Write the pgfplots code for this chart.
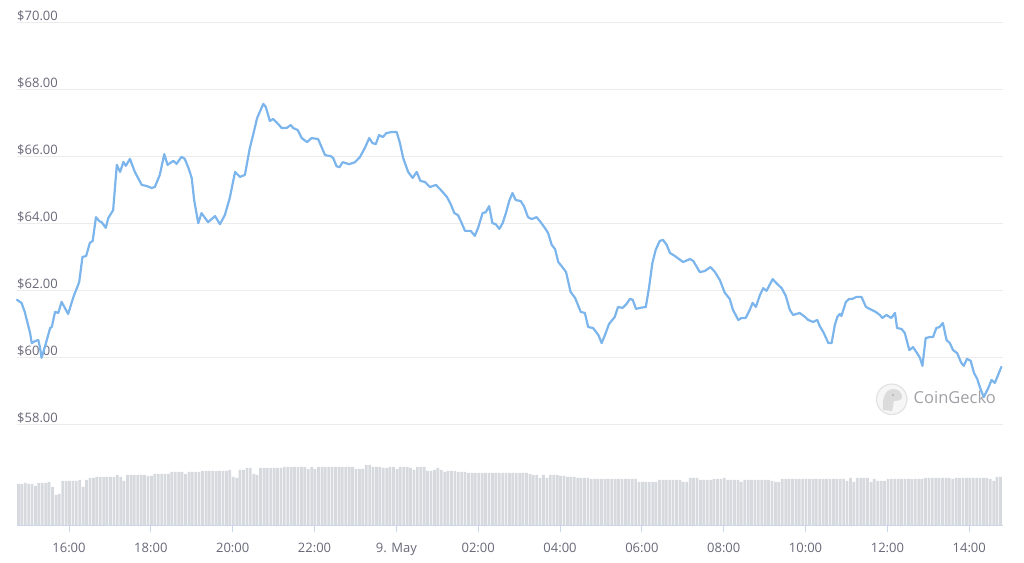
\documentclass[border=0pt]{standalone}
\usepackage{pgfplots}
\usepackage{pgfplotstable}
\pgfplotsset{compat=1.18}
\usepackage{fontspec}
\setmainfont{Open Sans}
\definecolor{linec}{HTML}{7CB5EC}
\definecolor{gridc}{RGB}{236,236,236}
\definecolor{labelc}{RGB}{104,104,120}
\definecolor{axisc}{HTML}{CCD6EB}
\definecolor{barc}{RGB}{214,217,222}
\definecolor{wmc}{RGB}{160,160,166}

\pgfplotstableread[row sep=\\]{
h p\\
14.73 61.72\\14.84 61.63\\14.92 61.36\\15.05 60.73\\15.09 60.43\\15.17 60.49\\15.25 60.52\\15.29 60.31\\15.33 59.99\\15.41 60.31\\
15.54 60.88\\15.58 60.91\\15.66 61.36\\15.74 61.33\\15.82 61.66\\15.90 61.48\\15.98 61.30\\16.11 61.81\\16.25 62.25\\16.33 63.00\\
16.42 63.03\\16.51 63.42\\16.58 63.48\\16.66 64.19\\16.74 64.07\\16.80 64.04\\16.90 63.87\\16.96 64.16\\17.08 64.40\\17.17 65.75\\
17.25 65.54\\17.33 65.84\\17.39 65.72\\17.49 65.93\\17.61 65.54\\17.78 65.15\\17.90 65.12\\18.02 65.06\\18.10 65.09\\18.22 65.45\\
18.33 66.07\\18.41 65.75\\18.55 65.87\\18.63 65.78\\18.75 65.99\\18.83 65.93\\18.92 65.66\\19.00 65.36\\19.06 64.70\\19.16 64.01\\
19.24 64.31\\19.40 64.04\\19.57 64.22\\19.69 63.98\\19.81 64.25\\19.93 64.76\\20.06 65.54\\20.18 65.39\\20.30 65.45\\20.42 66.25\\
20.50 66.64\\20.60 67.15\\20.75 67.57\\20.81 67.48\\20.91 67.06\\20.99 67.12\\21.09 67.00\\21.20 66.85\\21.32 66.85\\21.42 66.94\\
21.48 66.85\\21.59 66.79\\21.69 66.55\\21.82 66.43\\21.93 66.55\\22.09 66.52\\22.26 66.04\\22.40 66.01\\22.46 65.95\\22.54 65.71\\
22.61 65.68\\22.69 65.83\\22.77 65.80\\22.85 65.77\\22.99 65.83\\23.11 65.98\\23.23 66.25\\23.34 66.55\\23.42 66.40\\23.50 66.37\\
23.58 66.64\\23.67 66.58\\23.76 66.70\\23.89 66.73\\24.01 66.73\\24.09 66.40\\24.17 65.95\\24.29 65.54\\24.40 65.36\\24.50 65.54\\
24.59 65.27\\24.70 65.24\\24.82 65.09\\24.97 65.15\\25.09 65.00\\25.24 64.79\\25.33 64.58\\25.42 64.31\\25.51 64.25\\25.60 64.01\\
25.68 63.78\\25.82 63.78\\25.92 63.63\\26.00 63.87\\26.11 64.31\\26.19 64.34\\26.27 64.52\\26.35 64.01\\26.43 63.98\\26.52 63.84\\
26.60 64.01\\26.68 64.31\\26.76 64.67\\26.84 64.91\\26.92 64.70\\27.04 64.67\\27.12 64.52\\27.22 64.19\\27.31 64.13\\27.43 64.19\\
27.53 64.04\\27.63 63.87\\27.71 63.72\\27.80 63.36\\27.88 63.24\\27.96 62.85\\28.04 62.73\\28.15 62.55\\28.26 61.96\\28.37 61.78\\
28.51 61.36\\28.61 61.33\\28.69 60.91\\28.81 60.88\\28.94 60.67\\29.02 60.43\\29.10 60.67\\29.20 61.00\\29.34 61.21\\29.42 61.51\\
29.53 61.48\\29.63 61.60\\29.71 61.75\\29.78 61.72\\29.86 61.45\\29.95 61.48\\30.10 61.51\\30.18 62.10\\30.26 62.82\\30.34 63.21\\
30.44 63.48\\30.52 63.51\\30.61 63.36\\30.69 63.12\\30.81 63.03\\31.01 62.85\\31.18 62.94\\31.26 62.88\\31.42 62.55\\31.54 62.58\\
31.68 62.70\\31.79 62.55\\31.91 62.31\\32.03 61.93\\32.15 61.75\\32.23 61.42\\32.36 61.12\\32.44 61.18\\32.54 61.18\\32.64 61.42\\
32.71 61.63\\32.79 61.51\\32.89 61.87\\32.97 62.07\\33.05 61.99\\33.20 62.34\\33.29 62.22\\33.42 62.07\\33.52 61.84\\33.62 61.42\\
33.70 61.27\\33.86 61.33\\33.99 61.21\\34.07 61.12\\34.19 61.06\\34.29 61.12\\34.35 60.94\\34.45 60.73\\34.56 60.43\\34.64 60.43\\
34.72 60.97\\34.78 61.21\\34.84 61.30\\34.88 61.24\\34.99 61.66\\35.07 61.75\\35.15 61.75\\35.25 61.81\\35.37 61.81\\35.48 61.51\\
35.57 61.45\\35.72 61.36\\35.82 61.27\\35.88 61.18\\35.98 61.27\\36.10 61.18\\36.19 61.33\\36.24 60.88\\36.35 60.85\\36.43 60.73\\
36.54 60.22\\36.63 60.31\\36.73 60.13\\36.80 59.99\\36.86 59.75\\36.94 60.58\\37.04 60.61\\37.12 60.61\\37.20 60.88\\37.28 60.91\\
37.36 61.03\\37.45 60.52\\37.53 60.43\\37.61 60.22\\37.71 60.13\\37.81 59.84\\37.87 59.75\\37.95 59.96\\38.04 59.90\\38.12 59.54\\
38.20 59.36\\38.28 59.06\\38.36 58.82\\38.47 59.09\\38.55 59.33\\38.63 59.24\\38.71 59.48\\38.79 59.72\\
}\pricedata

\pgfplotstableread[row sep=\\]{
v\\
41\\41\\42\\41\\41\\39\\42\\42\\42\\43\\38\\30\\31\\44\\44\\44\\44\\44\\45\\38\\
45\\47\\47\\48\\48\\48\\48\\48\\48\\50\\48\\44\\50\\50\\50\\50\\50\\50\\49\\49\\
51\\51\\51\\51\\51\\53\\53\\53\\53\\51\\53\\53\\53\\53\\54\\54\\54\\54\\54\\54\\
54\\54\\55\\48\\47\\55\\55\\57\\57\\51\\50\\57\\57\\57\\57\\57\\57\\57\\58\\58\\
58\\58\\58\\58\\58\\56\\58\\56\\58\\58\\58\\58\\58\\58\\58\\58\\58\\58\\58\\56\\
56\\56\\60\\60\\58\\58\\58\\57\\57\\58\\58\\56\\58\\58\\58\\57\\55\\58\\58\\58\\
54\\54\\55\\57\\55\\53\\54\\54\\54\\53\\53\\53\\52\\52\\52\\52\\52\\52\\52\\52\\
52\\52\\52\\52\\52\\52\\52\\52\\52\\52\\51\\50\\50\\47\\50\\47\\50\\50\\50\\49\\
49\\48\\48\\48\\47\\47\\47\\47\\46\\46\\46\\46\\46\\46\\46\\46\\46\\46\\46\\46\\
46\\46\\43\\43\\43\\43\\43\\43\\45\\45\\45\\45\\45\\45\\45\\43\\43\\47\\47\\47\\
45\\45\\45\\45\\46\\46\\46\\47\\45\\45\\45\\45\\43\\45\\45\\45\\45\\45\\45\\45\\
45\\44\\43\\43\\46\\46\\46\\46\\46\\46\\46\\46\\46\\46\\46\\46\\46\\46\\46\\46\\
46\\46\\46\\44\\47\\43\\47\\47\\47\\47\\43\\46\\44\\44\\44\\46\\46\\46\\46\\46\\
46\\46\\46\\46\\46\\46\\47\\47\\47\\47\\47\\47\\47\\47\\46\\47\\47\\47\\47\\47\\
47\\47\\47\\47\\47\\46\\44\\48\\48\\
}\voldata

\begin{document}
\begin{tikzpicture}
\useasboundingbox (0pt,0pt) rectangle (1024pt,562pt);
% watermark
\fill[gray!7] (891.7pt,162.7pt) circle (15.7pt);
\draw[gray!22, line width=1.2pt] (891.7pt,162.7pt) circle (15.2pt);
\fill[gray!28] (883pt,152pt) .. controls (882pt,162pt) and (884pt,172pt) .. (893pt,173pt) .. controls (899pt,173pt) and (902pt,169pt) .. (902pt,165pt) .. controls (902pt,162pt) and (898pt,161pt) .. (894pt,161pt) .. controls (893pt,157pt) and (893pt,154pt) .. (892pt,151pt) -- cycle;
\fill[gray!60] (893pt,167pt) circle (1.2pt);
\node[anchor=base west, inner sep=0pt, text=wmc, font=\fontsize{16.5}{18}\selectfont] at (913.5pt,158pt) {CoinGecko};

\begin{axis}[
  at={(17pt,137.5pt)}, anchor=south west, scale only axis,
  width=986pt, height=402pt,
  xmin=14.73, xmax=38.83, ymin=58, ymax=70,
  xtick=\empty,
  ytick={58,60,62,64,66,68,70},
  yticklabels={\$58.00,\$60.00,\$62.00,\$64.00,\$66.00,\$68.00,\$70.00},
  ymajorgrids, grid style={gridc, line width=1pt},
  axis line style={draw=none},
  major tick length=0pt,
  yticklabel style={anchor=base west, inner sep=0pt, yshift=2pt, font=\fontsize{13}{15}\selectfont, text=labelc},
  clip=false,
]
\addplot[linec, line width=2.2pt, line join=round, line cap=round] table[x=h, y=p]{\pricedata};
\end{axis}

\begin{axis}[
  at={(17pt,37pt)}, anchor=south west, scale only axis,
  width=986pt, height=60pt,
  xmin=-0.41, xmax=288.74, ymin=0, ymax=60,
  axis x line=bottom, axis y line=none,
  x axis line style={axisc, line width=1pt, -},
  xtick={14.84,38.84,62.84,86.84,110.84,134.84,158.84,182.84,206.84,230.84,254.84,278.84},
  xticklabels={16:00,18:00,20:00,22:00,9. May,02:00,04:00,06:00,08:00,10:00,12:00,14:00},
  xtick style={axisc, line width=1pt},
  tick align=outside, major tick length=7pt,
  xticklabel style={anchor=north, inner sep=0pt, yshift=-11pt, font=\fontsize{13}{15}\selectfont, text=labelc},
  ybar, bar width=0.8,
]
\addplot[fill=barc, draw=none] table[x expr=\coordindex, y=v]{\voldata};
\end{axis}
\end{tikzpicture}
\end{document}
